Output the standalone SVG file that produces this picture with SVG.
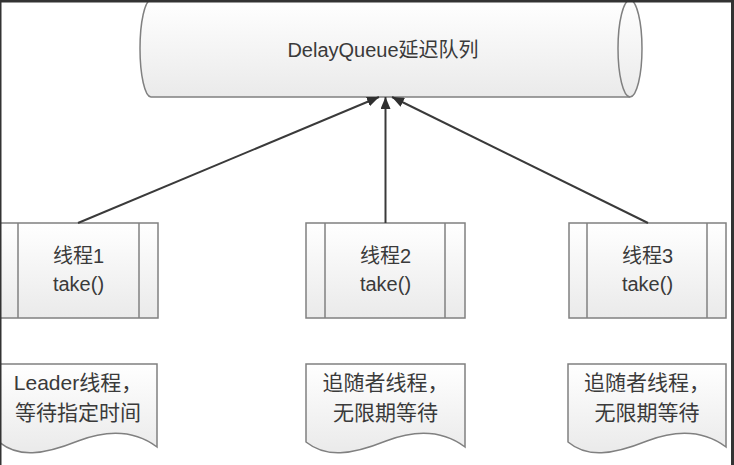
<svg xmlns="http://www.w3.org/2000/svg" width="734" height="465" viewBox="0 0 734 465">
<defs>
<linearGradient id="g" x1="0" y1="0" x2="0" y2="1"><stop offset="0" stop-color="#ffffff"/><stop offset="1" stop-color="#eaeaea"/></linearGradient>
<marker id="ah" viewBox="0 0 12 10" refX="12" refY="5" markerWidth="12" markerHeight="10" markerUnits="userSpaceOnUse" orient="auto"><path d="M0,0 L12,5 L0,10 Z" fill="#2f2f2f"/></marker>
<style>
.shape{fill:url(#g);stroke:#808080;stroke-width:1.5}
.ln{fill:none;stroke:#808080;stroke-width:1.5}
.t{font-family:"Liberation Sans","Noto Sans CJK SC",sans-serif;fill:#3a3a3a;text-anchor:middle}
.bt{font-size:20px}
.dt{font-size:21px}
.conn{stroke:#3a3a3a;stroke-width:2;fill:none;marker-end:url(#ah)}
</style>
</defs>
<rect width="734" height="465" fill="#ffffff"/>
<g id="queue">
<path class="shape" d="M151,0 H630 A12,48.5 0 0 1 630,97 H151 A11,48.5 0 0 1 151,0 Z"/>
<path class="ln" d="M630,0 A12,48.5 0 0 0 630,97"/>
<text class="t" x="383" y="57" font-size="20">DelayQueue延迟队列</text>
</g>
<g id="thread1">
<rect class="shape" x="-1" y="223" width="159" height="95"/>
<line class="ln" x1="18" y1="223" x2="18" y2="318"/>
<line class="ln" x1="139" y1="223" x2="139" y2="318"/>
<text class="t bt" x="78.5" y="263">线程1</text>
<text class="t bt" x="78.5" y="291">take()</text>
</g>
<g id="thread2">
<rect class="shape" x="306" y="223" width="159" height="95"/>
<line class="ln" x1="325" y1="223" x2="325" y2="318"/>
<line class="ln" x1="445" y1="223" x2="445" y2="318"/>
<text class="t bt" x="385.5" y="263">线程2</text>
<text class="t bt" x="385.5" y="291">take()</text>
</g>
<g id="thread3">
<rect class="shape" x="569" y="223" width="157" height="95"/>
<line class="ln" x1="587" y1="223" x2="587" y2="318"/>
<line class="ln" x1="707" y1="223" x2="707" y2="318"/>
<text class="t bt" x="647.5" y="263">线程3</text>
<text class="t bt" x="647.5" y="291">take()</text>
</g>
<g id="note1">
<path class="shape" d="M-1,364 H157 V447 C137,432 112,428 78,441 C43,455 18,458 -1,442 Z"/>
<text class="t dt" x="78" y="390">Leader线程，</text>
<text class="t dt" x="78" y="420">等待指定时间</text>
</g>
<g id="note2">
<path class="shape" d="M306,364 H465 V447 C445,432 420,428 386,441 C351,455 326,458 306,442 Z"/>
<text class="t dt" x="385.5" y="390">追随者线程，</text>
<text class="t dt" x="385.5" y="420">无限期等待</text>
</g>
<g id="note3">
<path class="shape" d="M568,364 H726 V447 C706,432 681,428 647,441 C612,455 587,458 568,442 Z"/>
<text class="t dt" x="647" y="390">追随者线程，</text>
<text class="t dt" x="647" y="420">无限期等待</text>
</g>
<g id="connectors">
<line class="conn" x1="78" y1="223" x2="379" y2="97"/>
<line class="conn" x1="385.5" y1="223" x2="385.5" y2="97"/>
<line class="conn" x1="648" y1="223" x2="392" y2="97"/>
</g>
<g id="frame" fill="#333333">
<rect x="0" y="0" width="734" height="2.5"/>
<rect x="0" y="0" width="1.5" height="465"/>
<rect x="731" y="0" width="3" height="465"/>
</g>
</svg>
